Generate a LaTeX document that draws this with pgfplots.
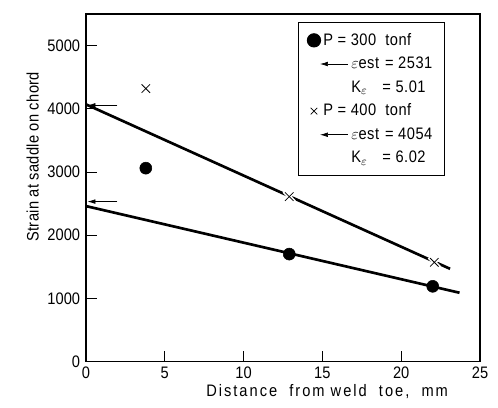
\documentclass[border=0pt]{standalone}
\usepackage{fontspec}
\setmainfont{Liberation Sans}[FakeStretch=0.88]
\usepackage{pgfplots}
\pgfplotsset{compat=1.18}
\usetikzlibrary{arrows.meta}

\begin{document}
\fontsize{12.5}{15}\selectfont
\begin{tikzpicture}
\begin{axis}[
    scale only axis,
    width=296pt, height=261pt,
    xmin=0, xmax=25, ymin=0, ymax=5500,
    xtick={0,5,10,15,20,25},
    ytick={0,1000,2000,3000,4000,5000},
    xtick pos=bottom, ytick pos=left,
    tick align=inside,
    major tick length=8pt,
    tick style={black, line width=0.6pt},
    axis line style={black, line width=1.4pt},
    /pgf/number format/assume math mode=true,
    /pgf/number format/1000 sep={},
    xlabel={\addfontfeature{LetterSpace=12}Distance\ \ from weld\ \ toe,\ \ mm},
    ylabel={\addfontfeature{LetterSpace=2}Strain\ at\ saddle\ on\ chord},
    xlabel style={at={(axis description cs:0.612,0)}, anchor=center, yshift=-22.5pt},
    ylabel style={at={(axis description cs:-0.135,0.589)}, anchor=center},
    legend style={at={(axis description cs:0.537,0.977)}, anchor=north west,
        draw=black, line width=0.7pt, inner xsep=7pt, inner ysep=6pt,
        row sep=3pt, font={\fontsize{12.5}{15}\selectfont\addfontfeature{LetterSpace=3}}},
    legend cell align=left,
]
% fitted lines
\addplot[forget plot, black, line width=2pt] coordinates {(0,2460) (23.7,1088)};
\addplot[forget plot, black, line width=2pt] coordinates {(0,4070) (23.1,1467)};
% estimated strains at the weld toe
\addplot[forget plot, black, line width=0.5pt, -{Latex[length=6pt,width=3.5pt]}]
    coordinates {(2.0,2531) (0.1,2531)};
\addplot[forget plot, black, line width=0.5pt, -{Latex[length=6pt,width=3.5pt]}]
    coordinates {(2.0,4054) (0.1,4054)};
% P = 300 tonf
\addplot[forget plot, only marks, mark=*, mark size=4.5pt, black]
    coordinates {(3.8,3060) (12.9,1700) (22.0,1190)};
% P = 400 tonf (white halo gives the gap in the line)
\addplot[forget plot, only marks, mark=x, mark size=5.5pt, white, line width=3pt]
    coordinates {(3.8,4320) (12.9,2610) (22.1,1570)};
\addplot[forget plot, only marks, mark=x, mark size=4.5pt, black, line width=0.6pt]
    coordinates {(3.8,4320) (12.9,2610) (22.1,1570)};

\addlegendimage{legend image code/.code={\path (0,0) (9pt,0);
    \draw[black, fill=black] plot[only marks, mark=*, mark size=5pt] coordinates {(4.5pt,0)};}}
\addlegendentry{P = 300\ \ tonf}
\addlegendimage{legend image code/.code={\path (0,0) (9pt,0);
    \draw[overlay, black, line width=0.5pt, -{Latex[length=6pt,width=3.5pt]}] (30pt,0) -- (9pt,0);}}
\addlegendentry{\hspace{21pt}\makebox[22pt][l]{$\varepsilon$est} = 2531}
\addlegendimage{legend image code/.code={\path (0,0) (9pt,0);}}
\addlegendentry{\hspace{21pt}\makebox[20pt][l]{K$_{\varepsilon}$} = 5.01}
\addlegendimage{legend image code/.code={\path (0,0) (9pt,0);
    \draw[black, line width=0.6pt] plot[only marks, mark=x, mark size=3.5pt] coordinates {(4.5pt,0)};}}
\addlegendentry{P = 400\ \ tonf}
\addlegendimage{legend image code/.code={\path (0,0) (9pt,0);
    \draw[overlay, black, line width=0.5pt, -{Latex[length=6pt,width=3.5pt]}] (30pt,0) -- (9pt,0);}}
\addlegendentry{\hspace{21pt}\makebox[22pt][l]{$\varepsilon$est} = 4054}
\addlegendimage{legend image code/.code={\path (0,0) (9pt,0);}}
\addlegendentry{\hspace{21pt}\makebox[20pt][l]{K$_{\varepsilon}$} = 6.02}
\end{axis}
\pgfresetboundingbox
\path[use as bounding box] ([shift={(-64.5pt,-34.5pt)}]current axis.south west)
    rectangle ([shift={(13.5pt,10.5pt)}]current axis.north east);
\end{tikzpicture}
\end{document}
